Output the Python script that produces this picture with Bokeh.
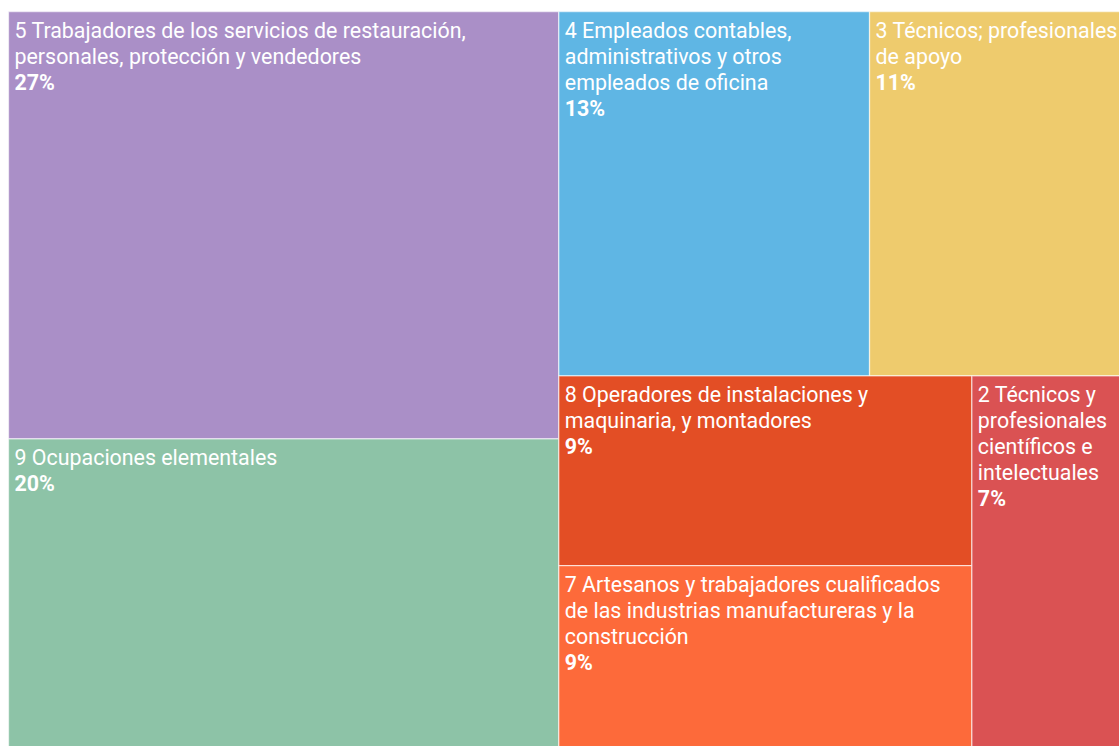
from bokeh.plotting import figure
from bokeh.models import Range1d, ColumnDataSource
from bokeh.core.properties import value
from bokeh.embed import file_html
from bokeh.resources import INLINE

# ---- data ----
categories = [
    "5 Trabajadores de los servicios de restauración,\npersonales, protección y vendedores",
    "9 Ocupaciones elementales",
    "4 Empleados contables,\nadministrativos y otros\nempleados de oficina",
    "3 Técnicos; profesionales\nde apoyo",
    "8 Operadores de instalaciones y\nmaquinaria, y montadores",
    "7 Artesanos y trabajadores cualificados\nde las industrias manufactureras y la\nconstrucción",
    "2 Técnicos y\nprofesionales\ncientíficos e\nintelectuales",
]
shares = [27, 20, 13, 11, 9, 9, 7]
colors = ["#aa8fc7", "#8dc3a7", "#5fb6e4", "#eecb6d", "#e34e25", "#fd6a3a", "#da5253"]

# ---- layout constants ----
PW, PH = 1119, 746
TM_X0, TM_Y0 = 8.0, 11.0
TM_W, TM_H = 1124.0, 744.0
FONT = "Roboto"
FS = 21.4
LINE_H = 26.0
PAD_X, PAD_Y = 6.0, 6.2

PHI = (1 + 5 ** 0.5) / 2


def squarify(values, x0, y0, x1, y1, ratio=PHI):
    """d3.treemapSquarify port."""
    n = len(values)
    rects = [None] * n
    total = float(sum(values))
    i0 = i1 = 0
    while i0 < n:
        dx, dy = x1 - x0, y1 - y0
        sum_v = values[i1]
        i1 += 1
        min_v = max_v = sum_v
        alpha = max(dy / dx, dx / dy) / (total * ratio)
        beta = sum_v * sum_v * alpha
        min_ratio = max(max_v / beta, beta / min_v)
        while i1 < n:
            nv = values[i1]
            s = sum_v + nv
            mn, mx = min(min_v, nv), max(max_v, nv)
            beta = s * s * alpha
            new_ratio = max(mx / beta, beta / mn)
            if new_ratio > min_ratio:
                break
            sum_v, min_v, max_v, min_ratio = s, mn, mx, new_ratio
            i1 += 1
        if dx < dy:
            yb = y0 + dy * sum_v / total
            xx = x0
            for i in range(i0, i1):
                w = dx * values[i] / sum_v
                rects[i] = (xx, y0, xx + w, yb)
                xx += w
            y0 = yb
        else:
            xb = x0 + dx * sum_v / total
            yy = y0
            for i in range(i0, i1):
                h = dy * values[i] / sum_v
                rects[i] = (x0, yy, xb, yy + h)
                yy += h
            x0 = xb
        total -= sum_v
        i0 = i1
    return rects


rects = squarify(shares, TM_X0, TM_Y0, TM_X0 + TM_W, TM_Y0 + TM_H)

rect_src = ColumnDataSource(dict(
    left=[r[0] for r in rects],
    right=[r[2] for r in rects],
    top=[r[1] for r in rects],
    bottom=[r[3] for r in rects],
    color=colors,
))

# one row per label line
lx, ly, lt = [], [], []
px, py, pt = [], [], []
for r, name, s in zip(rects, categories, shares):
    lines = name.split("\n")
    for k, line in enumerate(lines):
        lx.append(r[0] + PAD_X)
        ly.append(r[1] + PAD_Y + k * LINE_H)
        lt.append(line)
    px.append(r[0] + PAD_X)
    py.append(r[1] + PAD_Y + len(lines) * LINE_H)
    pt.append(f"{s}%")

name_src = ColumnDataSource(dict(x=lx, y=ly, text=lt))
pct_src = ColumnDataSource(dict(x=px, y=py, text=pt))

p = figure(width=PW, height=PH, output_backend="svg", toolbar_location=None,
           x_range=Range1d(0, PW), y_range=Range1d(PH, 0),
           min_border=0, min_border_left=0, min_border_right=0,
           min_border_top=0, min_border_bottom=0)
p.axis.visible = False
p.xgrid.visible = False
p.ygrid.visible = False
p.outline_line_color = None
p.background_fill_color = "white"
p.border_fill_color = "white"

p.quad(left="left", right="right", top="top", bottom="bottom", source=rect_src,
       fill_color="color", line_color="white", line_alpha=0.6, line_width=1.3)

p.text(x="x", y="y", text="text", source=name_src, text_color="white",
       text_font=value(FONT), text_font_size=f"{FS}px", text_baseline="top",
       text_align="left")
p.text(x="x", y="y", text="text", source=pct_src, text_color="white",
       text_font=value(FONT), text_font_size=f"{FS}px", text_font_style="bold",
       text_baseline="top", text_align="left")

open("out.html", "w").write(file_html(p, INLINE))
